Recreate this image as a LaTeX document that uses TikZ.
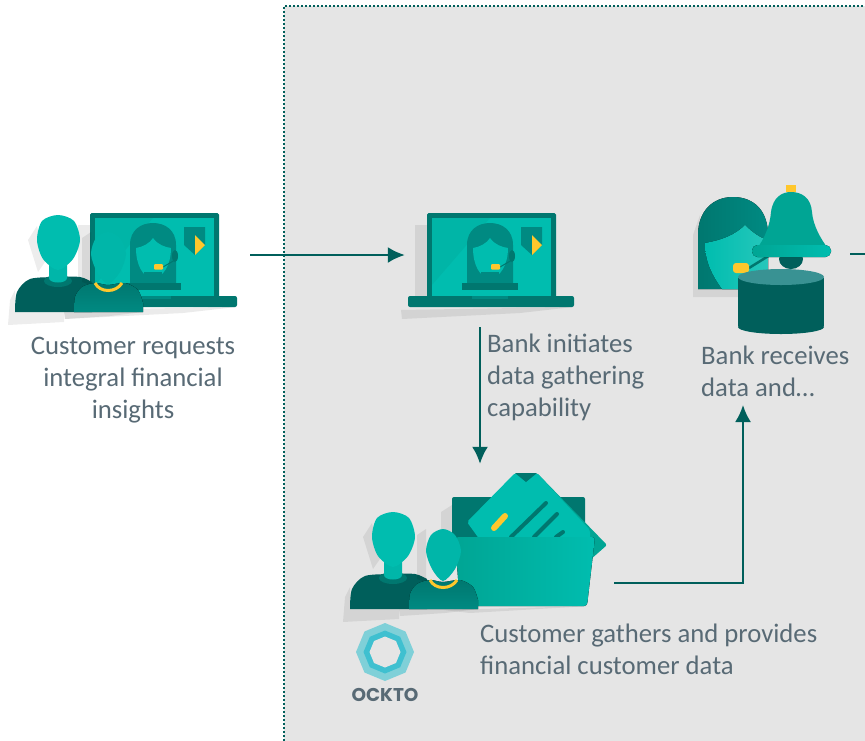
\documentclass[tikz,border=0pt]{standalone}
\usepackage{fontspec}
\setmainfont{Carlito}
\newfontfamily\logofont{Poppins}
\usetikzlibrary{arrows.meta,shapes.geometric}
\definecolor{tealdark}{HTML}{005F5B}
\definecolor{tealmid}{HTML}{00776F}
\definecolor{tealhair}{HTML}{008A82}
\definecolor{tealcard}{HTML}{00A594}
\definecolor{teallight}{HTML}{00BDAF}
\definecolor{panelgrey}{HTML}{E5E5E5}
\definecolor{labelgrey}{HTML}{586A75}
\definecolor{signyellow}{HTML}{FFC72C}
\definecolor{ringouter}{HTML}{7FD0D8}
\definecolor{ringinner}{HTML}{3FC0D0}
\newcommand{\laptopicon}{%
	\fill [black,opacity=0.08] (415,225) -- (427,225) -- (427,297) -- (415,297) -- cycle;
	\fill [black,opacity=0.08] (401,310) -- (573,307) -- (520,313) -- (402,319) -- cycle;
	\fill [tealmid,rounded corners=1.5pt] (427,213) rectangle (556,298);
	\fill [teallight] (432,218) rectangle (551,296);
	\fill [teallight!88!tealmid] (432,218) -- (490,218) -- (432,285) -- cycle;
	\fill [tealhair] (467,285) -- (467,245) .. controls (467,230) and (478,223) .. (490,223) .. controls (502,223) and (513,230) .. (513,245) -- (513,285) -- cycle;
	\fill [teallight] (473,248) .. controls (480,247) and (487,243) .. (490,238) .. controls (495,245) and (502,247) .. (508,248) .. controls (508,265) and (500,278) .. (490,278) .. controls (480,278) and (473,265) .. (473,248) -- cycle;
	\fill [tealhair] (481,272) -- (499,272) -- (499,284) -- (481,284) -- cycle;
	\fill [tealmid] (462,283) rectangle (518,290);
	\fill [tealmid] (512,256) ellipse (3 and 6);
	\draw [tealmid,line width=1pt] (512,260) -- (500,267);
	\fill [signyellow,rounded corners=1pt] (491,264) rectangle (500,269.5);
	\fill [tealhair] (521,227) -- (542,227) -- (542,245) -- (532,255) -- (521,245) -- cycle;
	\fill [signyellow] (532,235) -- (542,245) -- (532,255) -- cycle;
	\fill [tealmid,rounded corners=2pt] (408,296) rectangle (574,307);
	\fill [tealhair] (472,296) rectangle (508,299);
}
\newcommand{\peopleicon}{%
	\fill [black,opacity=0.07] (8,325) -- (10,300) -- (15,290) -- (15,312) -- (64,312) -- (64,322) -- cycle;
	\fill [black,opacity=0.07] (28,240) -- (37,226) -- (45,262) -- (38,272) -- cycle;
	\fill [tealdark] plot [smooth] coordinates { (15,312) (17,292) (30,279) (58,277) (80,277) (92,282)} -- (92,312) -- cycle;
	\fill [tealmid] (58,281) ellipse (14 and 6);
	\fill [teallight!90!tealmid] (49,262) -- (67,262) -- (67,278) .. controls (67,284) and (49,284) .. (49,278) -- cycle;
	\fill [teallight] plot [smooth cycle] coordinates { (58,215) (74,221) (80,240) (73,259) (58,270) (43,259) (37,240) (42,221)};
	\fill [black,opacity=0.08] (82,238) -- (91,232) -- (91,285) -- (82,282) -- cycle;
	\fill [black,opacity=0.08] (64,312) -- (143,312) -- (110,316) -- (65,319) -- cycle;
	\fill [top color=tealmid,bottom color=tealhair] plot [smooth] coordinates { (74,312) (75,297) (82,287) (95,283) (108,285) (125,283) (138,290) (143,303)} -- (143,312) -- cycle;
	\fill [teallight!90!tealmid] plot [smooth cycle] coordinates { (108,232) (120,238) (126,254) (120,272) (108,284) (97,272) (91,254) (96,238)};
	\draw [signyellow,line width=3pt] (95,283) .. controls (100,293) and (116,293) .. (122,283);
}
\newcommand{\folderbody}{%
	\fill [black,opacity=0.07] (444,610) -- (590,606) -- (470,613) -- cycle;
	\fill [black,opacity=0.07] (441,512) -- (452,505) -- (452,535) -- (441,535) -- cycle;
	\fill [tealmid,rounded corners=2pt] (452,497) rectangle (585,540);
	\fill [tealcard,rounded corners=2pt] (537,473) -- (607,545) -- (590,560) -- (500,540) -- cycle;
	\fill [teallight,rounded corners=2pt] (515,473) -- (537,473) -- (590,530) -- (590,545) -- (480,540) -- (467,522) -- cycle;
	\fill [tealmid] (515,473) -- (537,473) -- (526,482) -- cycle;
	\draw [signyellow,line width=6pt,line cap=round] (494,528) -- (505,516);
	\draw [tealmid,line width=4pt,line cap=round] (511,537) -- (546,503);
	\draw [tealmid,line width=4pt,line cap=round] (534,537) -- (557,514);
	\draw [tealmid,line width=4pt,line cap=round] (556,537) -- (563,532);
	\fill [left color=tealcard,right color=teallight,rounded corners=3pt] (455,537) -- (595,537) -- (587,606) -- (460,606) -- cycle;
}
\begin{document}
\begin{tikzpicture}[x=1pt,y=-1pt]
	\tikzstyle{every node}=[font=\fontsize{26.7}{32}\selectfont,text=labelgrey,inner sep=0pt]
	\tikzstyle{icon}=[minimum width=0pt,minimum height=0pt]
	\tikzstyle{flow}=[tealdark,line width=2.2pt,-{Latex[length=17pt,width=16pt]}]
	\useasboundingbox (0,0) rectangle (865,740);
	\clip (0,0) rectangle (865,740);
	\fill [white] (0,0) rectangle (865,740);
	\fill [panelgrey] (284,6) rectangle (870,745);
	\draw [tealdark,line width=2pt,dotted] (284,745) -- (284,6) -- (870,6);

	\begin{scope}[shift={(-337,0)}]
	\laptopicon
	\end{scope}
	\peopleicon

	\laptopicon

	% bank side
	\fill [black,opacity=0.07] (693,297) -- (693,235) -- (700,215) -- (700,289) -- (738,289) -- (738,297) -- cycle;
	\fill [left color=tealmid,right color=tealhair] (698,289) -- (698,235) .. controls (698,212) and (712,197) .. (733,197) .. controls (755,197) and (768,212) .. (768,235) -- (768,289) -- cycle;
	\fill [left color=teallight,right color=teallight!85!white] (705,243) .. controls (722,240) and (735,235) .. (745,225) .. controls (752,232) and (760,238) .. (768,240) -- (768,289) -- (722,289) .. controls (712,275) and (705,262) .. (705,243) -- cycle;
	\draw [tealmid,line width=2.5pt] (749,268) -- (770,255);
	\fill [tealdark] (791,259) ellipse (12 and 10);
	\fill [tealcard] (756,250) .. controls (765,238) and (770,225) .. (771,212) .. controls (773,197) and (782,192) .. (791,192) .. controls (802,192) and (811,198) .. (812,212) .. controls (813,225) and (820,238) .. (829,250) -- cycle;
	\fill [left color=tealcard,right color=teallight,rounded corners=5.5pt] (752,245) rectangle (831,257);
	\fill [signyellow] (786,185) rectangle (796,192);
	\fill [signyellow,rounded corners=3pt] (733,263) rectangle (749,273);
	\fill [tealdark] (781,327) ellipse (43 and 7);
	\fill [tealdark] (738,278) rectangle (824,326);
	\fill [ringouter!45!tealdark] (781,277) ellipse (43 and 8);

	% gathering
	\folderbody
	\begin{scope}[shift={(335,297)}]
	\peopleicon
	\end{scope}
	\node [regular polygon,regular polygon sides=8,fill=ringouter,minimum size=58pt,shape border rotate=22.5] (ringa) at (385,652) {};
	\node [regular polygon,regular polygon sides=8,fill=ringinner,minimum size=43pt,shape border rotate=22.5] (ringb) at (385,652) {};
	\node [regular polygon,regular polygon sides=8,fill=panelgrey,minimum size=31pt,shape border rotate=22.5] (ringc) at (385,652) {};
	\node (ocktolabel) at (385,695) {\logofont\fontsize{18.5}{18.5}\selectfont\bfseries OCKTO};

	% icon anchors for the arrows
	\node [icon,minimum width=235pt,minimum height=130pt] (customer) at (132.5,255) {};
	\node [icon,minimum width=150pt,minimum height=144pt] (bankdesk) at (480,255) {};
	\node [icon,minimum width=268pt,minimum height=238pt] (gather) at (480,583) {};
	\coordinate (recvin) at (743,405);
	\coordinate (recvout) at (850,254);
	\coordinate (rightedge) at (866,254);

	\draw [flow] (customer.east) -- (bankdesk.west);
	\draw [flow] (bankdesk.south) -- (gather.north);
	\draw [flow] (gather.east) -| (recvin);
	\draw [tealdark,line width=2.2pt] (recvout) -- (rightedge);

	\node [align=center,anchor=base] (reqtext) at (133,418) {Customer requests\\integral financial\\insights};
	\node [align=left,anchor=base west] (initext) at (487,416) {Bank initiates\\data gathering\\capability};
	\node [align=left,anchor=base west] (recvtext) at (701,396) {Bank receives\\data and…};
	\node [align=left,anchor=base west] (gathertext) at (480,674) {Customer gathers and provides\\financial customer data};
\end{tikzpicture}
\end{document}
